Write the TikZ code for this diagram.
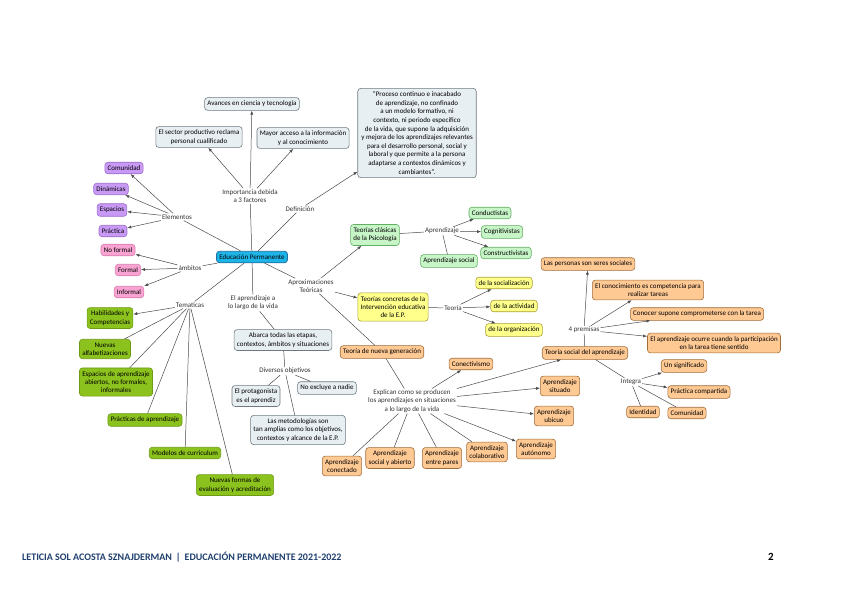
\documentclass[tikz,border=0pt]{standalone}
\usepackage{fontspec}
\setmainfont{Carlito}
\usetikzlibrary{arrows.meta}
\definecolor{fillGris}{HTML}{E8EFF3}
\definecolor{bordeGris}{HTML}{6F7A80}
\definecolor{fillAzul}{HTML}{1DB4E8}
\definecolor{bordeAzul}{HTML}{1F6E9E}
\definecolor{fillMorado}{HTML}{C99AF5}
\definecolor{bordeMorado}{HTML}{9A6CC8}
\definecolor{fillRosa}{HTML}{F9A3D2}
\definecolor{bordeRosa}{HTML}{D97DB0}
\definecolor{fillVerde}{HTML}{8CC21E}
\definecolor{bordeVerde}{HTML}{6E9A14}
\definecolor{fillVerdeC}{HTML}{C8F5C8}
\definecolor{bordeVerdeC}{HTML}{62AE62}
\definecolor{fillAmarillo}{HTML}{FFFF8C}
\definecolor{bordeAmarillo}{HTML}{ABA033}
\definecolor{fillNaranja}{HTML}{FFC994}
\definecolor{bordeNaranja}{HTML}{A06D3A}
\definecolor{lineaGris}{HTML}{4A4A4A}
\definecolor{azulPie}{HTML}{1F3F6E}

\begin{document}
\begin{tikzpicture}[x=1pt, y=-1pt,
    concepto/.style={rectangle, rounded corners=3pt, draw, line width=0.6pt,
                     align=center, font=\fontsize{7}{8.3}\selectfont,
                     inner xsep=2.8pt, inner ysep=3.3pt},
    gris/.style={concepto, fill=fillGris, draw=bordeGris},
    azul/.style={concepto, fill=fillAzul, draw=bordeAzul, line width=0.8pt},
    morado/.style={concepto, fill=fillMorado, draw=bordeMorado},
    rosa/.style={concepto, fill=fillRosa, draw=bordeRosa},
    verde/.style={concepto, fill=fillVerde, draw=bordeVerde},
    verdec/.style={concepto, fill=fillVerdeC, draw=bordeVerdeC},
    amarillo/.style={concepto, fill=fillAmarillo, draw=bordeAmarillo},
    naranja/.style={concepto, fill=fillNaranja, draw=bordeNaranja},
    enlace/.style={fill=white, inner sep=1pt, align=center,
                   font=\fontsize{7}{8.3}\selectfont, text=black!80},
    flecha/.style={-{Latex[length=4pt, width=3pt]}, lineaGris, line width=0.5pt},
    linea/.style={lineaGris, line width=0.5pt},
]
    \useasboundingbox (0,0) rectangle (848,600);

    % centro
    \node[azul] (ep) at (252,257) {Educación Permanente};

    % importancia y definicion
    \node[gris] (avances) at (252,104) {Avances en ciencia y tecnología};
    \node[gris] (sector) at (199,137) {El sector productivo reclama\\personal cualificado};
    \node[gris] (acceso) at (303,138) {Mayor acceso a la información\\y al conocimiento};
    \node[gris, font=\fontsize{7}{8.6}\selectfont, inner sep=3.5pt] (defbox) at (417,133)
        {"Proceso continuo e inacabado\\de aprendizaje, no confinado\\a un modelo formativo, ni\\contexto, ni periodo específico\\de la vida, que supone la adquisición\\y mejora de los aprendizajes relevantes\\para el desarrollo personal, social y\\laboral y que permite a la persona\\adaptarse a contextos dinámicos y\\cambiantes".};
    \node[enlace] (importancia) at (250,196) {Importancia debida\\a 3 factores};
    \node[enlace] (definicion) at (300,209) {Definición};

    % elementos y ambitos
    \node[enlace] (elementos) at (177,217) {Elementos};
    \node[morado] (comunidad) at (124,168) {Comunidad};
    \node[morado] (dinamicas) at (111,189) {Dinámicas};
    \node[morado] (espacios) at (112,210) {Espacios};
    \node[morado] (practica) at (113,231) {Práctica};
    \node[enlace] (ambitos) at (190,268) {ámbitos};
    \node[rosa] (noformal) at (118,250) {No formal};
    \node[rosa] (formal) at (128,270) {Formal};
    \node[rosa] (informal) at (129,292) {Informal};

    % tematicas
    \node[enlace] (tematicas) at (190,305) {Tematicas};
    \node[verde] (habilidades) at (110,318) {Habilidades y\\Competencias};
    \node[verde] (nalfab) at (105,349) {Nuevas\\alfabetizaciones};
    \node[verde] (espabiertos) at (116,382) {Espacios de aprendizaje\\abiertos, no formales,\\informales};
    \node[verde] (practicas) at (145,420) {Prácticas de aprendizaje};
    \node[verde] (modelos) at (185,453) {Modelos de curriculum};
    \node[verde] (evaluacion) at (235,485) {Nuevas formas de\\evaluación y acreditación};

    % a lo largo de la vida
    \node[enlace] (largo) at (253,303) {El aprendizaje a\\lo largo de la vida};
    \node[gris] (abarca) at (283,340) {Abarca todas las etapas,\\contextos, ámbitos y situaciones};
    \node[enlace] (diversos) at (285,371) {Diversos objetivos};
    \node[gris] (protagonista) at (256,396) {El protagonista\\es el aprendiz};
    \node[gris] (noexcluye) at (327,388) {No excluye a nadie};
    \node[gris] (metodologias) at (298,430) {Las metodologías son\\tan amplias como los objetivos,\\contextos y alcance de la E.P.};

    % aproximaciones teoricas
    \node[enlace] (aproximaciones) at (311,286) {Aproximaciones\\Teóricas};
    \node[verdec] (clasicas) at (375,235) {Teorías clásicas\\de la Psicología};
    \node[enlace] (aprendizaje) at (442,231) {Aprendizaje};
    \node[verdec] (conductistas) at (490,213) {Conductistas};
    \node[verdec] (cognitivistas) at (502,232) {Cognitivistas};
    \node[verdec] (constructivistas) at (506,253) {Constructivistas};
    \node[verdec] (apsocial) at (449,261) {Aprendizaje social};

    \node[amarillo] (concretas) at (393,307) {Teorías concretas de la\\Intervención educativa\\de la E.P.};
    \node[enlace] (teoria) at (453,308) {Teoría};
    \node[amarillo] (socializacion) at (504,283) {de la socialización};
    \node[amarillo] (actividad) at (514,306) {de la actividad};
    \node[amarillo] (organizacion) at (514,330) {de la organización};

    \node[naranja] (nuevagen) at (382,352) {Teoría de nueva generación};
    \node[enlace] (explican) at (412,401) {Explican como se producen\\los aprendizajes en situaciones\\a lo largo de la vida};
    \node[naranja] (conectivismo) at (471,364) {Conectivismo};
    \node[naranja] (tsocial) at (585,353) {Teoría social del aprendizaje};
    \node[naranja] (situado) at (560,386) {Aprendizaje\\situado};
    \node[naranja] (ubicuo) at (554,416) {Aprendizaje\\ubicuo};
    \node[naranja] (autonomo) at (536,449) {Aprendizaje\\autónomo};
    \node[naranja] (colaborativo) at (487,452) {Aprendizaje\\colaborativo};
    \node[naranja] (pares) at (442,458) {Aprendizaje\\entre pares};
    \node[naranja] (abierto) at (390,458) {Aprendizaje\\social y abierto};
    \node[naranja] (conectado) at (342,466) {Aprendizaje\\conectado};

    % teoria social
    \node[enlace] (premisas) at (584,330) {4 premisas};
    \node[naranja] (personas) at (588,264) {Las personas son seres sociales};
    \node[naranja] (conocimiento) at (648,290) {El conocimiento es competencia para\\realizar tareas};
    \node[naranja] (conocer) at (697,314) {Conocer supone comprometerse con la tarea};
    \node[naranja] (ocurre) at (714,343) {El aprendizaje ocurre cuando la participación\\en la tarea tiene sentido};
    \node[enlace] (integra) at (631,382) {Integra};
    \node[naranja] (significado) at (684,366) {Un significado};
    \node[naranja] (compartida) at (699,392) {Práctica compartida};
    \node[naranja] (identidad) at (643,412) {Identidad};
    \node[naranja] (comunidad2) at (687,413) {Comunidad};

    % conectores
    \foreach \n in {importancia,definicion,elementos,ambitos,tematicas,largo,aproximaciones}
        \draw[linea] (ep) -- (\n);
    \foreach \n in {avances,sector,acceso}
        \draw[flecha] (importancia) -- (\n);
    \draw[flecha] (definicion) -- (defbox);
    \foreach \n in {comunidad,dinamicas,espacios,practica}
        \draw[flecha] (elementos) -- (\n);
    \foreach \n in {noformal,formal,informal}
        \draw[flecha] (ambitos) -- (\n);
    \draw[flecha] (tematicas) -- (habilidades);
    \foreach \n in {nalfab,espabiertos,practicas,modelos,evaluacion}
        \draw[linea] (tematicas) -- (\n);

    \draw[linea] (largo) -- (abarca);
    \draw[linea] (abarca) -- (diversos);
    \foreach \n in {protagonista,noexcluye,metodologias}
        \draw[linea] (diversos) -- (\n);

    \draw[flecha] (aproximaciones) -- (clasicas);
    \draw[flecha] (aproximaciones) -- (concretas);
    \draw[linea] (aproximaciones) -- (nuevagen);
    \draw[linea] (clasicas) -- (aprendizaje);
    \foreach \n in {conductistas,cognitivistas,constructivistas}
        \draw[flecha] (aprendizaje) -- (\n);
    \draw[linea] (aprendizaje) -- (apsocial);
    \draw[linea] (concretas) -- (teoria);
    \foreach \n in {socializacion,actividad,organizacion}
        \draw[flecha] (teoria) -- (\n);

    \draw[linea] (nuevagen) -- (explican);
    \foreach \n in {conectivismo,tsocial,situado,ubicuo,autonomo}
        \draw[flecha] (explican) -- (\n);
    \foreach \n in {colaborativo,pares,abierto,conectado}
        \draw[linea] (explican) -- (\n);

    \draw[linea] (tsocial) -- (premisas);
    \foreach \n in {personas,conocimiento,conocer,ocurre}
        \draw[flecha] (premisas) -- (\n);
    \draw[linea] (tsocial) -- (integra);
    \foreach \n in {significado,compartida}
        \draw[flecha] (integra) -- (\n);
    \foreach \n in {identidad,comunidad2}
        \draw[linea] (integra) -- (\n);

    % pie de pagina
    \node[anchor=west, inner sep=0pt, text=azulPie, font=\fontsize{10}{12}\selectfont\bfseries] (pie) at (22,557)
        {LETICIA SOL ACOSTA SZNAJDERMAN \,|\, EDUCACIÓN PERMANENTE 2021-2022};
    \node[inner sep=0pt, font=\fontsize{11}{13}\selectfont\bfseries] (pagina) at (771,557) {2};
\end{tikzpicture}
\end{document}
